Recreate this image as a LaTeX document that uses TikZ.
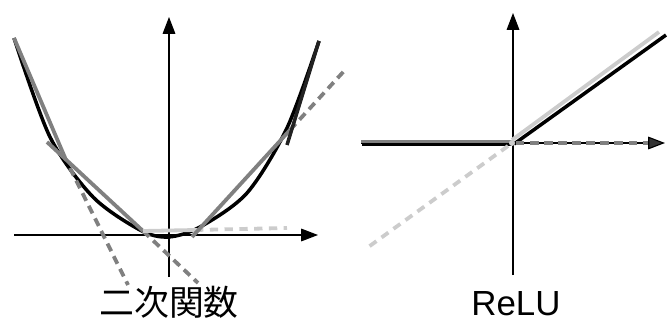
\documentclass[tikz,border=0pt]{standalone}
\usepackage{fontspec}
\setmainfont{Liberation Sans}
\newfontfamily\jpfont{Noto Sans CJK JP}
\usetikzlibrary{arrows.meta}
\definecolor{midgray}{HTML}{808080}
\definecolor{lightgray}{HTML}{CCCCCC}
\definecolor{nearblack}{HTML}{222222}
\tikzset{
  axis/.style={line width=0.8pt, -{Triangle[length=12pt,width=9pt]}},
  curveline/.style={line width=2.5pt, black},
  piece/.style={line width=2.7pt, midgray},
  lightpiece/.style={line width=2.7pt, lightgray},
  extdash/.style={line width=2.7pt, midgray, dash pattern=on 6pt off 4pt},
  lightdash/.style={line width=2.7pt, lightgray, dash pattern=on 6pt off 4.5pt},
  caption/.style={anchor=base, font=\fontsize{24.8}{30}\selectfont}
}

\begin{document}
\begin{tikzpicture}[x=0.025cm, y=-0.025cm]
  \useasboundingbox (0,0) rectangle (668,327);

  % quadratic panel
  \coordinate (qxl) at (14,235);
  \coordinate (qxr) at (318,235);
  \coordinate (qyb) at (169,277);
  \coordinate (qyt) at (169,17);
  \draw[axis] (qxl) -- (qxr);
  \draw[axis] (qyb) -- (qyt);
  \draw[curveline] plot[smooth] coordinates {(14,38) (50,137) (93,197)
    (140,230) (168,237) (200,227) (247,193) (287,128) (319,41)};

  \coordinate (a0) at (14,38);
  \coordinate (a1) at (66,160);
  \coordinate (a2) at (70,168);
  \coordinate (a3) at (128,285);
  \coordinate (b0) at (47,142);
  \coordinate (b1) at (143,231);
  \coordinate (b2) at (198,283);
  \coordinate (c1) at (195,230);
  \coordinate (c2) at (287,228);
  \coordinate (d0) at (192,237);
  \coordinate (d1) at (290,130);
  \coordinate (d2) at (345,70);
  \coordinate (e0) at (287,145);
  \coordinate (e1) at (319,41);
  \draw[piece] (a0) -- (a1);
  \draw[extdash] (a2) -- (a3);
  \draw[piece] (b0) -- (b1);
  \draw[extdash] (b1) -- (b2);
  \draw[lightdash] (c1) -- (c2);
  \draw[lightpiece] (b1) -- (c1);
  \draw[piece] (d0) -- (d1);
  \draw[extdash] (d1) -- (d2);
  \draw[line width=2.5pt, nearblack] (e0) -- (e1);
  \node[caption, font=\jpfont\fontsize{24.8}{30}\selectfont] (quadlabel) at (169,315) {二次関数};

  % ReLU panel
  \coordinate (rxl) at (361,143);
  \coordinate (rxr) at (665,143);
  \coordinate (ryb) at (513,275);
  \coordinate (ryt) at (513,13);
  \draw[axis, -{Triangle[length=12pt,width=9pt,fill=gray!40!black]}] (rxl) -- (rxr);
  \draw[axis] (ryb) -- (ryt);
  \coordinate (o) at (512,143);
  \draw[line width=2.5pt, gray] (361,141.5) -- (512,141.5);
  \draw[line width=2pt, black] (362,144.5) -- (512,144.5);
  \draw[lightpiece] (512,140) -- (659,32);
  \draw[curveline] (514,144) -- (666,35);
  \draw[extdash] (516,143) -- (648,143);
  \draw[lightdash] (508,146) -- (367,248);
  \fill[lightgray] (o) circle (3);
  \node[caption] (relulabel) at (516,315) {ReLU};
\end{tikzpicture}
\end{document}
